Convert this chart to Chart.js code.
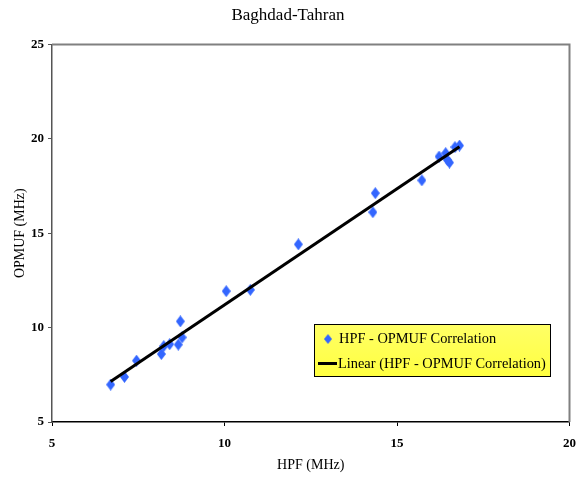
<!DOCTYPE html>
<html>
<head>
<meta charset="utf-8">
<script src="https://cdn.jsdelivr.net/npm/chart.js@4"></script>
<style>
  html, body { margin: 0; padding: 0; background: #fff; }
  #wrap { width: 576px; height: 480px; }
</style>
</head>
<body>
<div id="wrap"><canvas id="myChart" width="576" height="480"></canvas></div>
<script>
// HPF vs OPMUF (MHz)
const hpf = [6.70, 7.10, 7.45, 8.17, 8.24, 8.41, 8.66, 8.77, 8.72, 10.05, 10.75, 12.14, 14.30, 14.37, 15.72, 16.22, 16.41, 16.46, 16.52, 16.68, 16.81];
const opmuf = [6.98, 7.39, 8.25, 8.60, 9.02, 9.12, 9.10, 9.48, 10.33, 11.93, 12.00, 14.41, 16.11, 17.12, 17.80, 19.06, 19.24, 18.88, 18.74, 19.56, 19.64];
const xTicks = [5, 10, 15, 20];
const yTicks = [5, 10, 15, 20, 25];
const seriesName = 'HPF - OPMUF Correlation';
const trendName = 'Linear (HPF - OPMUF Correlation)';

const serif = "'Liberation Serif', 'Times New Roman', serif";

// least squares trendline, like the spreadsheet one
const n = hpf.length;
const mx = hpf.reduce((a, b) => a + b, 0) / n;
const my = opmuf.reduce((a, b) => a + b, 0) / n;
let sxy = 0, sxx = 0;
for (let i = 0; i < n; i++) {
    sxy += (hpf[i] - mx) * (opmuf[i] - my);
    sxx += (hpf[i] - mx) * (hpf[i] - mx);
}
const slope = sxy / sxx;
const icpt = my - slope * mx;
const xMin = Math.min(...hpf), xMax = Math.max(...hpf);
const trend = [
    { x: xMin, y: icpt + slope * xMin },
    { x: xMax, y: icpt + slope * xMax }
];

// tall diamond marker
const diamond = document.createElement('canvas');
diamond.width = 9;
diamond.height = 12;
const dc = diamond.getContext('2d');
dc.fillStyle = '#3366ff';
dc.beginPath();
dc.moveTo(4.5, 0);
dc.lineTo(9, 6);
dc.lineTo(4.5, 12);
dc.lineTo(0, 6);
dc.closePath();
dc.fill();

// frame on top / right + boxed legend inside the plot
const framePlugin = {
    id: 'frame',
    afterDraw(chart) {
        const { ctx, chartArea: a } = chart;
        ctx.save();
        ctx.strokeStyle = '#808080';
        ctx.lineWidth = 2;
        ctx.beginPath();
        ctx.moveTo(a.left, a.top);
        ctx.lineTo(a.right, a.top);
        ctx.lineTo(a.right, a.bottom);
        ctx.stroke();

        // legend box
        const bx = 314, by = 324, bw = 236, bh = 52;
        const g = ctx.createLinearGradient(0, by, 0, by + bh);
        g.addColorStop(0, '#ffff66');
        g.addColorStop(1, '#ffff40');
        ctx.fillStyle = g;
        ctx.fillRect(bx, by, bw, bh);
        ctx.strokeStyle = '#000';
        ctx.lineWidth = 1;
        ctx.strokeRect(bx + 0.5, by + 0.5, bw, bh);

        ctx.drawImage(diamond, 324, 334, 8, 10);
        ctx.fillStyle = '#000';
        ctx.fillRect(318, 362, 19, 3);

        ctx.font = '14.4px ' + serif;
        ctx.textBaseline = 'middle';
        ctx.textAlign = 'left';
        ctx.fillText(chart.data.datasets[0].label, 339, 339);
        ctx.fillText(chart.data.datasets[1].label, 338, 364);
        ctx.restore();
    }
};

const ctx = document.getElementById('myChart');
new Chart(ctx, {
    type: 'scatter',
    data: {
        datasets: [{
            label: seriesName,
            data: hpf.map((x, i) => ({ x: x, y: opmuf[i] })),
            pointStyle: diamond,
            pointRadius: 5,
            order: 1
        }, {
            label: trendName,
            type: 'line',
            data: trend,
            borderColor: '#000',
            borderWidth: 3,
            pointRadius: 0,
            fill: false,
            order: 0
        }]
    },
    options: {
        responsive: false,
        animation: false,
        layout: {
            padding: { left: 0, right: 0, top: 0, bottom: 0 }
        },
        plugins: {
            legend: { display: false },
            tooltip: { enabled: false },
            title: {
                display: true,
                text: 'Baghdad-Tahran',
                color: '#000',
                font: { size: 17, family: serif, weight: 'normal' },
                padding: { top: 5, bottom: 19 }
            }
        },
        scales: {
            x: {
                type: 'linear',
                min: xTicks[0],
                max: xTicks[xTicks.length - 1],
                afterBuildTicks: (s) => { s.ticks = xTicks.map(v => ({ value: v })); },
                afterFit: (s) => { s.height = 58; },
                grid: { drawOnChartArea: false, tickLength: 4, color: '#000' },
                border: { color: '#000', width: 1.5 },
                ticks: {
                    color: '#000',
                    padding: 0,
                    maxRotation: 0,
                    font: { size: 13, family: serif, weight: 'bold', lineHeight: 2.7 }
                },
                title: {
                    display: true,
                    text: 'HPF (MHz)',
                    color: '#000',
                    font: { size: 14, family: serif },
                    padding: { top: 0, bottom: 6 }
                }
            },
            y: {
                min: yTicks[0],
                max: yTicks[yTicks.length - 1],
                afterBuildTicks: (s) => { s.ticks = yTicks.map(v => ({ value: v })); },
                afterFit: (s) => { s.width = 52; },
                grid: { drawOnChartArea: false, tickLength: 4, color: '#555' },
                border: { color: '#555', width: 1.5 },
                ticks: {
                    color: '#000',
                    padding: 4,
                    font: { size: 13, family: serif, weight: 'bold' }
                },
                title: {
                    display: true,
                    text: 'OPMUF (MHz)',
                    color: '#000',
                    font: { size: 14, family: serif },
                    padding: { top: 12, bottom: 0 }
                }
            }
        }
    },
    plugins: [framePlugin]
});
</script>
</body>
</html>
